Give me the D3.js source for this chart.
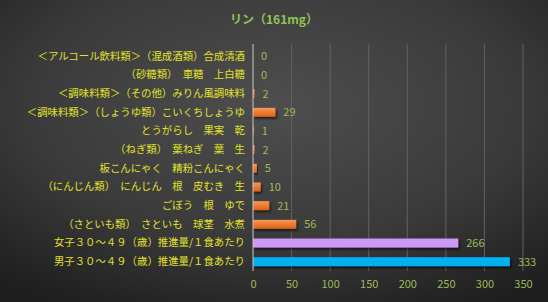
<!DOCTYPE html>
<html>
<head>
<meta charset="utf-8">
<script src="https://cdn.jsdelivr.net/npm/d3@7"></script>
<style>
  body { margin: 0; background: #2b2b2b; }
  svg { display: block; }
</style>
</head>
<body>
<div id="chart"></div>
<script>
var categories = [
  "＜アルコール飲料類＞（混成酒類）合成清酒",
  "（砂糖類）　車糖　上白糖",
  "＜調味料類＞（その他）みりん風調味料",
  "＜調味料類＞（しょうゆ類）こいくちしょうゆ",
  "とうがらし　果実　乾",
  "（ねぎ類）　葉ねぎ　葉　生",
  "板こんにゃく　精粉こんにゃく",
  "（にんじん類）　にんじん　根　皮むき　生",
  "ごぼう　根　ゆで",
  "（さといも類）　さといも　球茎　水煮",
  "女子３０～４９（歳）推進量/１食あたり",
  "男子３０～４９（歳）推進量/１食あたり"
];
var values = [0, 0, 2, 29, 1, 2, 5, 10, 21, 56, 266, 333];
var barKinds = ["food", "food", "food", "food", "food", "food", "food", "food", "food", "food", "female", "male"];
var tickValues = [0, 50, 100, 150, 200, 250, 300, 350];
var title = "リン（161mg）";

var W = 548, H = 302;
var margin = {top: 47, right: 25, bottom: 31, left: 253};

var svg = d3.select("#chart").append("svg")
  .attr("width", W)
  .attr("height", H);

var defs = svg.append("defs");
var bg = defs.append("radialGradient")
  .attr("id", "bg")
  .attr("cx", "50%").attr("cy", "35%").attr("r", "75%");
bg.append("stop").attr("offset", "0%").attr("stop-color", "#4e4e4e");
bg.append("stop").attr("offset", "60%").attr("stop-color", "#3a3a3a");
bg.append("stop").attr("offset", "100%").attr("stop-color", "#1f1f1f");

var orange = defs.append("linearGradient")
  .attr("id", "orange").attr("x1", 0).attr("y1", 0).attr("x2", 0).attr("y2", 1);
orange.append("stop").attr("offset", "0%").attr("stop-color", "#f79a5a");
orange.append("stop").attr("offset", "50%").attr("stop-color", "#ee7a30");
orange.append("stop").attr("offset", "100%").attr("stop-color", "#d9621c");

var shadow = defs.append("filter").attr("id", "shadow")
  .attr("x", "-10%").attr("y", "-50%").attr("width", "130%").attr("height", "250%");
shadow.append("feDropShadow")
  .attr("dx", 1.5).attr("dy", 2).attr("stdDeviation", 1.2)
  .attr("flood-color", "#000").attr("flood-opacity", 0.6);

svg.append("rect").attr("width", W).attr("height", H).attr("fill", "url(#bg)");

var fillFor = {food: "url(#orange)", female: "#cc99f8", male: "#00b0f0"};

var x = d3.scaleLinear()
  .domain([0, 350])
  .range([margin.left, W - margin.right]);

var y = d3.scaleBand()
  .domain(categories)
  .range([margin.top, H - margin.bottom])
  .paddingInner(0.52)
  .paddingOuter(0.26);

// gridlines
svg.append("g")
  .selectAll("line")
  .data(tickValues.slice(1))
  .enter()
  .append("line")
  .attr("x1", function(d) { return x(d); })
  .attr("x2", function(d) { return x(d); })
  .attr("y1", margin.top - 3)
  .attr("y2", H - margin.bottom)
  .attr("stroke", "#626262")
  .attr("stroke-width", 1);

// x axis labels
var xAxis = svg.append("g")
  .attr("transform", "translate(0," + (H - margin.bottom) + ")")
  .call(d3.axisBottom(x).tickValues(tickValues).tickSize(0).tickPadding(9));
xAxis.select(".domain").remove();
xAxis.selectAll("text")
  .attr("fill", "#9bbb59")
  .attr("font-size", 11)
  .attr("font-family", "'Noto Sans CJK JP', 'DejaVu Sans', sans-serif");

// bars
svg.append("g")
  .selectAll("rect")
  .data(values)
  .enter()
  .append("rect")
  .attr("x", x(0))
  .attr("y", function(d, i) { return y(categories[i]); })
  .attr("width", function(d) { return x(d) - x(0); })
  .attr("height", y.bandwidth())
  .attr("fill", function(d, i) { return fillFor[barKinds[i]]; })
  .attr("filter", "url(#shadow)");

// vertical axis line
svg.append("line")
  .attr("x1", x(0)).attr("x2", x(0))
  .attr("y1", margin.top - 3).attr("y2", H - margin.bottom)
  .attr("stroke", "#c8c8c8").attr("stroke-width", 1);

// category labels
var yAxis = svg.append("g")
  .attr("transform", "translate(" + x(0) + ",0)")
  .call(d3.axisLeft(y).tickSize(0).tickPadding(8));
yAxis.select(".domain").remove();
yAxis.selectAll("text")
  .attr("fill", "#e2e22a")
  .attr("font-size", 10.4)
  .attr("font-family", "'Noto Sans CJK JP', sans-serif");

// data labels
svg.append("g")
  .selectAll("text")
  .data(values)
  .enter()
  .append("text")
  .attr("x", function(d) { return x(d) + 8; })
  .attr("y", function(d, i) { return y(categories[i]) + y.bandwidth() / 2; })
  .attr("dy", "0.35em")
  .attr("fill", "#9bbb59")
  .attr("font-size", 11)
  .attr("font-family", "'Noto Sans CJK JP', 'DejaVu Sans', sans-serif")
  .text(function(d) { return d; });

// title
svg.append("text")
  .attr("x", W / 2)
  .attr("y", 20)
  .attr("dy", "0.35em")
  .attr("text-anchor", "middle")
  .attr("fill", "#92c353")
  .attr("font-size", 12)
  .attr("font-weight", "bold")
  .attr("font-family", "'Noto Sans CJK JP', sans-serif")
  .text(title);
</script>
</body>
</html>
